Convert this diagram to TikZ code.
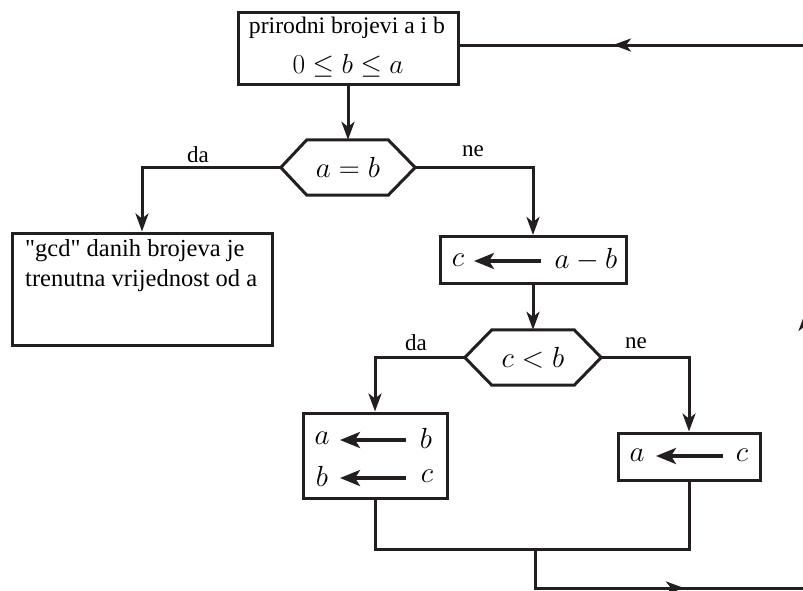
\documentclass[tikz,border=0pt]{standalone}
\usepackage{fontspec}
\setmainfont{Liberation Serif}
\usetikzlibrary{arrows.meta,calc}
\definecolor{ink}{HTML}{231F20}
\newcommand\mbigx[1]{\scalebox{1.17}{$#1$}}
\begin{document}
\begin{tikzpicture}[x=1pt,y=-1pt,
  wire/.style={draw=ink,line width=3pt},
  flow/.style={wire,-{Stealth[length=18pt,width=13pt,inset=5pt]}},
  inner/.style={wire,line width=3.5pt,-{Stealth[length=20pt,width=16pt,inset=5pt]}},
  box/.style={draw=ink,line width=3pt,fill=white,inner sep=0pt},
  hexnode/.style={inner sep=0pt,minimum height=55pt},
  txt/.style={inner sep=0pt,font=\fontsize{23.7}{28}\selectfont},
  gtxt/.style={inner sep=0pt,font=\fontsize{24.5}{29}\selectfont},
  lbl/.style={inner sep=0pt,font=\fontsize{23}{27}\selectfont},
  mth/.style={inner sep=0pt,font=\fontsize{24.88}{30}\selectfont}]
\useasboundingbox (0,0) rectangle (803,590);

% start box
\node[box,minimum width=220pt,minimum height=72pt] (start) at (348,48) {};
\node[txt] (t1) at (347,28) {prirodni brojevi a i b};
\node[mth] (t2) at (348,66) {\scalebox{1.1}{$0\le b\le a$}};

% hexagon 1
\node[hexnode,minimum width=134pt] (h1) at (348,167.5) {};
\draw[wire,line join=miter] ($(h1.north west)+(26,0)$) -- ($(h1.north east)+(-27,0)$) -- (h1.east)
  -- ($(h1.south east)+(-27,0)$) -- ($(h1.south west)+(26,0)$) -- (h1.west) -- cycle;
\node[mth] (h1t) at (h1) {\mbigx{a=b}};

% gcd box
\node[box,minimum width=260pt,minimum height=112pt] (gcd) at (142,289) {};
\node[gtxt,anchor=west] (g1) at (25,251) {\textquotedbl gcd\textquotedbl{} danih brojeva je};
\node[gtxt,anchor=west] (g2) at (25,281) {trenutna vrijednost od a};

% c <- a-b box
\node[box,minimum width=186pt,minimum height=47pt] (cbox) at (533,260) {};
\node[mth] (c1) at (458,260) {\mbigx{c}};
\node[mth] (c2) at (586,260) {\mbigx{a-b}};
\draw[inner] (541,261) -- (474,261);

% hexagon 2
\node[hexnode,minimum width=136pt] (h2) at (533,357.5) {};
\draw[wire,line join=miter] ($(h2.north west)+(27,0)$) -- ($(h2.north east)+(-27,0)$) -- (h2.east)
  -- ($(h2.south east)+(-27,0)$) -- ($(h2.south west)+(27,0)$) -- (h2.west) -- cycle;
\node[mth] (h2t) at (h2) {\mbigx{c<b}};

% left assignment box
\node[box,minimum width=144pt,minimum height=85pt] (box2) at (375,455.5) {};
\node[mth] (b2a) at (322,438) {\mbigx{a}};
\node[mth] (b2b) at (426,438) {\mbigx{b}};
\node[mth] (b2c) at (322,476) {\mbigx{b}};
\node[mth] (b2d) at (427,476) {\mbigx{c}};
\draw[inner] (406,440) -- (340,440);
\draw[inner] (406,478) -- (340,478);

% right assignment box
\node[box,minimum width=142pt,minimum height=47pt] (box3) at (689,456.5) {};
\node[mth] (b3a) at (637,455) {\mbigx{a}};
\node[mth] (b3b) at (742,455) {\mbigx{c}};
\draw[inner] (723,456) -- (656,456);

% connectors
\draw[flow] (start.south) -- (h1.north);
\draw[flow] (h1.west) -| (gcd.north);
\draw[flow] (h1.east) -| (cbox.north);
\draw[flow] (cbox.south) -- (h2.north);
\draw[flow] (h2.west) -| (box2.north);
\draw[flow] (h2.east) -| (box3.north);

\node[lbl] (l1) at (198,155) {da};
\node[lbl] (l2) at (473,151) {ne};
\node[lbl] (l3) at (416,343) {da};
\node[lbl] (l4) at (636,343) {ne};

% loop back
\coordinate (m) at (535,548);
\coordinate (br) at (805,588);
\coordinate (tr) at (805,45);
\draw[wire] (box2.south) -- ++(0,50) -| (box3.south);
\draw[wire,line join=miter] (m) |- (br) -- (tr) -- (start.east |- tr);
\draw[flow] (m |- br) -- (684,588);
\draw[flow] (br) -- (805,313);
\draw[flow] (tr) -- (613,45);
\end{tikzpicture}
\end{document}
